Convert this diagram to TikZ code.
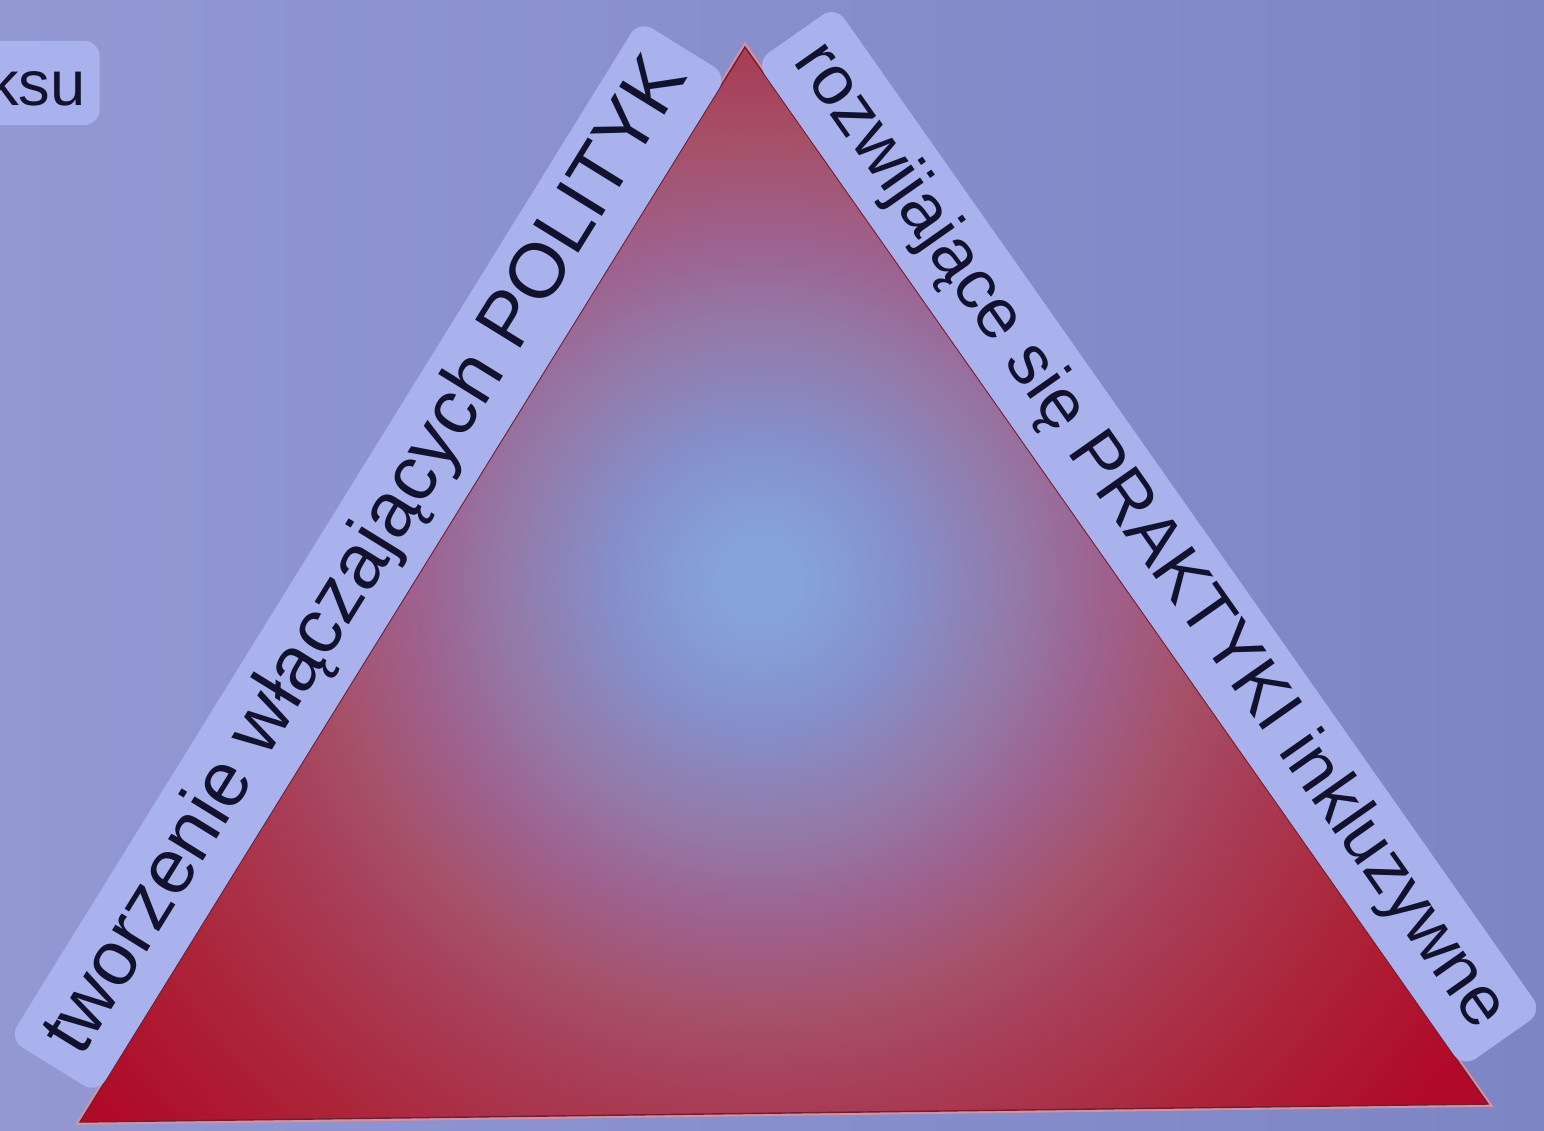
\documentclass[tikz,border=0pt]{standalone}
\usepackage{fontspec}
\setmainfont{Liberation Sans}
\usetikzlibrary{positioning}
\definecolor{BackLeft}{HTML}{9398D3}
\definecolor{BackRight}{HTML}{7E85C5}
\definecolor{LabelFill}{HTML}{AAB2EE}
\definecolor{LabelText}{HTML}{12122E}
\definecolor{EdgePink}{HTML}{D8909C}
\definecolor{EdgeDark}{HTML}{6E1E36}
\definecolor{GlowCenter}{HTML}{86A3DB}
\definecolor{GlowBlue}{HTML}{8590CC}
\definecolor{GlowMauve}{HTML}{9478A6}
\definecolor{GlowPink}{HTML}{9E6290}
\definecolor{GlowRose}{HTML}{A65068}
\definecolor{GlowWine}{HTML}{A83E58}
\definecolor{TriRed}{HTML}{AC2438}
\definecolor{TriDeep}{HTML}{B00A28}
\pgfdeclareradialshading{TriGlow}{\pgfpointorigin}{%
  color(0bp)=(GlowCenter); color(1bp)=(GlowCenter);
  color(3.5bp)=(GlowBlue); color(6.5bp)=(GlowMauve);
  color(8.5bp)=(GlowPink); color(11bp)=(GlowRose);
  color(13bp)=(GlowWine); color(17bp)=(TriRed);
  color(21bp)=(TriDeep); color(50bp)=(TriDeep)}

\begin{document}
\begin{tikzpicture}[
  x=0.02cm, y=-0.02cm,
  sidelbl/.style={
    rectangle, rounded corners=9pt,
    fill=LabelFill, text=LabelText,
    inner xsep=12pt, inner ysep=9pt},
  tagbox/.style={
    rectangle, rounded corners=9pt,
    fill=LabelFill, text=LabelText,
    font=\fontsize{36}{40}\selectfont,
    minimum height=48pt, text width=4cm, align=right,
    inner xsep=8pt},
  triglowline/.style={draw=EdgePink, line width=3.2pt, line join=miter},
  triedge/.style={draw=EdgeDark, line width=0.8pt, line join=miter},
]

% background
\shade[left color=BackLeft, right color=BackRight] (0,0) rectangle (1544,1130);
\useasboundingbox (0,0) rectangle (1544,1130);
\clip (0,0) rectangle (1544,1130);

\coordinate (apex) at (745,47);
\coordinate (bl)   at (80,1122);
\coordinate (br)   at (1488,1104);

% triangle with glow
\draw[triglowline] (apex) -- (bl) -- (br) -- cycle;
\begin{scope}
  \clip (apex) -- (bl) -- (br) -- cycle;
  \fill[shading=TriGlow] (760,580) circle (1000);
\end{scope}
\draw[triedge] (apex) -- (bl) -- (br) -- cycle;

% side labels
\path (bl) -- node[sidelbl, font=\fontsize{44}{48}\selectfont,
  sloped, above, pos=0.5] (polit)
  {tworzenie włączających POLITYK} (apex);
\path (apex) -- node[sidelbl, font=\fontsize{40}{44}\selectfont,
  sloped, above, pos=0.49] (prakt)
  {rozwijające się PRAKTYKI inkluzywne} (br);

\node[tagbox, anchor=east] (ksu) at (100,83) {ksu};

\end{tikzpicture}
\end{document}
